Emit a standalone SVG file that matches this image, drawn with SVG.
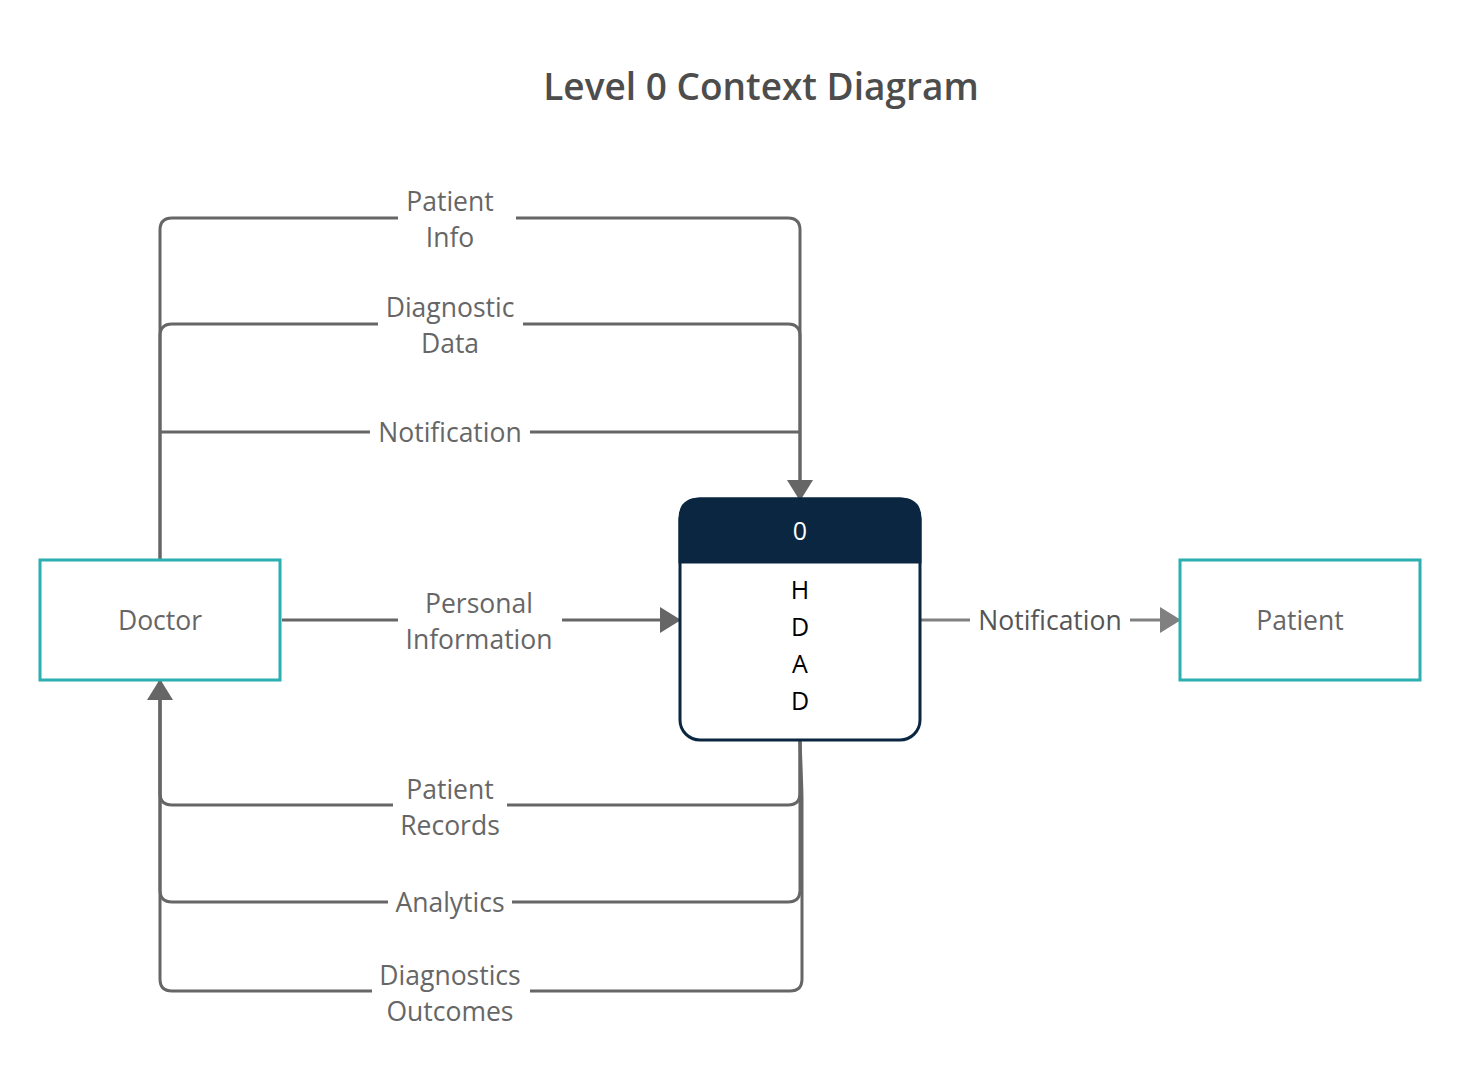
<svg xmlns="http://www.w3.org/2000/svg" width="1460" height="1068" viewBox="0 0 1460 1068">
<style>
text{font-family:"Open Sans","Noto Sans","Liberation Sans",sans-serif;}
.lbl{font-size:26.5px;fill:#666666;text-anchor:middle;}
.ent{fill:#ffffff;stroke:#2ab0b0;stroke-width:3;}
.edge{fill:none;stroke:#666666;stroke-width:3;}
.bg{fill:#ffffff;}
.ltr{font-size:25px;fill:#000000;text-anchor:middle;}
</style>
<defs>
<marker id="arr" markerUnits="userSpaceOnUse" markerWidth="22" markerHeight="26" refX="20" refY="13" orient="auto">
<path d="M0,0 L21,13 L0,26 z" fill="#666666"/>
</marker>
<marker id="arr2" markerUnits="userSpaceOnUse" markerWidth="22" markerHeight="26" refX="20" refY="13" orient="auto">
<path d="M0,0 L21,13 L0,26 z" fill="#808080"/>
</marker>
</defs>
<rect width="1460" height="1068" fill="#ffffff"/>
<text x="761" y="100" style="font-size:37px;fill:#4d4d4d;text-anchor:middle;font-weight:600">Level 0 Context Diagram</text>

<g id="connectors">
<path class="edge" d="M160,560 V230 Q160,218 172,218 H788 Q800,218 800,230 V500" marker-end="url(#arr)"/>
<path class="edge" d="M160,560 V336 Q160,324 172,324 H788 Q800,324 800,336 V500"/>
<path class="edge" d="M160,432 H800"/>
<path class="edge" d="M282,620 H680" marker-end="url(#arr)"/>
<path class="edge" d="M920,620 H1180" style="stroke:#808080" marker-end="url(#arr2)"/>
<path class="edge" d="M800,740 V793 Q800,805 788,805 H172 Q160,805 160,793 V680" marker-end="url(#arr)"/>
<path class="edge" d="M800,740 V890 Q800,902 788,902 H172 Q160,902 160,890 V680"/>
<path class="edge" d="M800,740 Q802,790 802,800 V979 Q802,991 790,991 H172 Q160,991 160,979 V680"/>
<rect class="bg" x="398" y="185" width="118" height="70"/>
<text class="lbl" x="450" y="211">Patient</text>
<text class="lbl" x="450" y="247">Info</text>
<rect class="bg" x="378" y="291" width="145" height="70"/>
<text class="lbl" x="450" y="317">Diagnostic</text>
<text class="lbl" x="450" y="353">Data</text>
<rect class="bg" x="370" y="415" width="160" height="34"/>
<text class="lbl" x="450" y="442">Notification</text>
<rect class="bg" x="398" y="586" width="164" height="70"/>
<text class="lbl" x="479" y="613">Personal</text>
<text class="lbl" x="479" y="649">Information</text>
<rect class="bg" x="970" y="603" width="160" height="34"/>
<text class="lbl" x="1050" y="630" style="fill:#555555">Notification</text>
<rect class="bg" x="393" y="772" width="114" height="70"/>
<text class="lbl" x="450" y="799">Patient</text>
<text class="lbl" x="450" y="835">Records</text>
<rect class="bg" x="388" y="885" width="124" height="34"/>
<text class="lbl" x="450" y="912">Analytics</text>
<rect class="bg" x="372" y="958" width="158" height="70"/>
<text class="lbl" x="450" y="985">Diagnostics</text>
<text class="lbl" x="450" y="1021">Outcomes</text>
</g>

<g id="doctor">
<rect class="ent" x="40" y="560" width="240" height="120"/>
<text class="lbl" x="160" y="630">Doctor</text>
</g>

<g id="patient">
<rect class="ent" x="1180" y="560" width="240" height="120"/>
<text class="lbl" x="1300" y="630">Patient</text>
</g>

<g id="process">
<rect x="680" y="499" width="240" height="241" rx="20" fill="#ffffff" stroke="#0a2640" stroke-width="3"/>
<path d="M680,562 V519 Q680,499 700,499 H900 Q920,499 920,519 V562 z" fill="#0a2640" stroke="#0a2640" stroke-width="3"/>
<text x="800" y="540" style="font-size:25px;fill:#ffffff;text-anchor:middle">0</text>
<text class="ltr" x="800" y="599">H</text>
<text class="ltr" x="800" y="636">D</text>
<text class="ltr" x="800" y="673">A</text>
<text class="ltr" x="800" y="710">D</text>
</g>
</svg>
